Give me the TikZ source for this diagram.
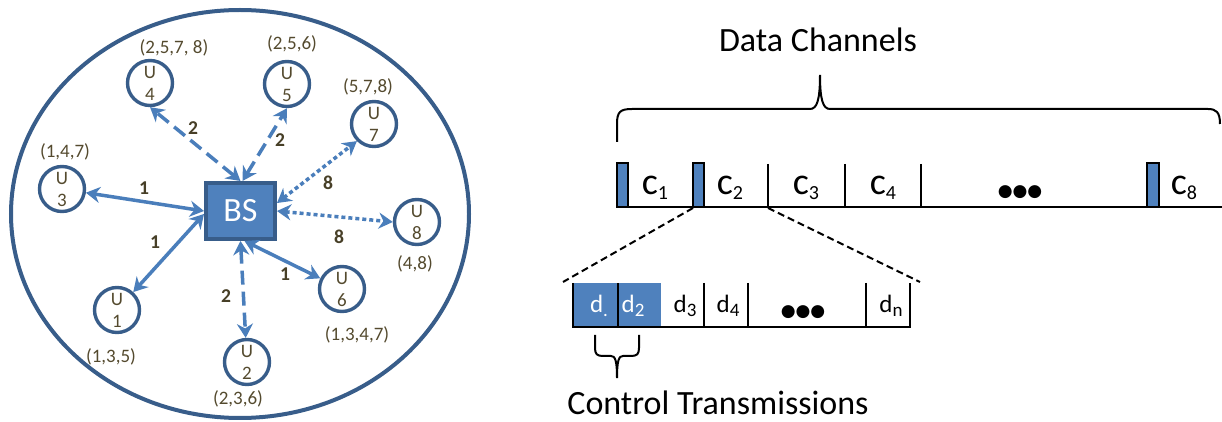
\documentclass[tikz,border=0pt]{standalone}
\usepackage{fontspec}
\setmainfont{Carlito}
\newfontfamily\dotfont{DejaVu Sans}
\usepackage{tikz}
\usetikzlibrary{arrows.meta}
\definecolor{cellblue}{RGB}{79,129,189}
\definecolor{ringblue}{RGB}{56,93,138}
\definecolor{linkblue}{RGB}{74,126,187}
\definecolor{tagbrown}{RGB}{84,74,46}
\newcommand{\chan}[1]{{\fontsize{19}{19}\selectfont c}\raisebox{-2.5pt}{\fontsize{10}{10}\selectfont #1}}
\newcommand{\slot}[1]{{\fontsize{12.5}{12.5}\selectfont d}\raisebox{-2pt}{\fontsize{9.5}{9.5}\selectfont #1}}
\newcommand{\bigdots}{{\dotfont\fontsize{8.5}{8.5}\selectfont ●●●}}

\begin{document}
\begin{tikzpicture}[x=.5pt, y=-.5pt, > = {Stealth[length=7pt,width=8pt]},
    user/.style={circle, draw=ringblue, line width=1.7pt, minimum size=22.5pt, inner sep=0pt,
      align=center, text=tagbrown, font=\fontsize{9.5}{11}\selectfont},
    tag/.style={text=tagbrown, font=\fontsize{9.5}{11}\selectfont},
    hop/.style={text=tagbrown!85!black, font=\fontsize{9.8}{11}\selectfont\bfseries},
    link/.style={<->, draw=linkblue, line width=1.75pt},
    dashlink/.style={link, dash pattern=on 7pt off 3.5pt},
    dotlink/.style={link, dash pattern=on 2pt off 1.5pt},
    head/.style={font=\fontsize{17}{17}\selectfont, anchor=base},
    bar/.style={line width=1.1pt},
    lowbar/.style={line width=1.3pt},
    pilot/.style={fill=cellblue, draw=black, line width=1pt},
    brace/.style={line width=1pt},
    zoomline/.style={line width=1pt, dash pattern=on 3.5pt off 2pt}]
        \useasboundingbox (0,0) rectangle (1222,422);

        % cell with base station and users
        \draw[ringblue, line width=2pt] (240,214) ellipse [x radius=229, y radius=204];
        \node[draw=ringblue, fill=cellblue, line width=2pt, minimum width=34.5pt, minimum height=28pt,
          text=white, font=\fontsize{17}{17}\selectfont] (bs) at (240.5,211) {BS};
        \node[user] (u1) at (117,310) {U\\1};
        \node[user] (u2) at (247,362) {U\\2};
        \node[user] (u3) at (62,189) {U\\3};
        \node[user] (u4) at (150,83) {U\\4};
        \node[user] (u5) at (287,84) {U\\5};
        \node[user] (u6) at (342,289) {U\\6};
        \node[user] (u7) at (374,124) {U\\7};
        \node[user] (u8) at (417,222) {U\\8};

        \draw[link] (bs.west) -- (u3);
        \draw[link] ([yshift=-1.5pt]bs.west) -- (u1);
        \draw[link] ([xshift=2pt]bs.south) -- (u6);
        \draw[dashlink] (bs.south) -- (u2);
        \draw[dashlink] (bs.north) -- (u4.south);
        \draw[dashlink] ([xshift=1pt]bs.north) -- (u5.south);
        \draw[dotlink] ([yshift=4pt]bs.east) -- (u7.south west);
        \draw[dotlink] (bs.east) -- (u8.west);

        \node[hop] (h3) at (144,188) {1};
        \node[hop] (h1) at (155,242) {1};
        \node[hop] (h6) at (285,274) {1};
        \node[hop] (h2) at (226,296) {2};
        \node[hop] (h4) at (193,128) {2};
        \node[hop] (h5) at (280,140) {2};
        \node[hop] (h7) at (328,183) {8};
        \node[hop] (h8) at (339,237) {8};

        \node[tag] (t1) at (111,357) {(1,3,5)};
        \node[tag] (t2) at (238,399) {(2,3,6)};
        \node[tag] (t3) at (65,152) {(1,4,7)};
        \node[tag] (t4) at (174,48) {(2,5,7, 8)};
        \node[tag] (t5) at (292,44) {(2,5,6)};
        \node[tag] (t6) at (357,335) {(1,3,4,7)};
        \node[tag] (t7) at (368,87) {(5,7,8)};
        \node[tag] (t8) at (415,264) {(4,8)};

        % data channels
        \node[head] (dchan) at (818,52) {Data Channels};
        \draw[brace] (617,142) -- (617,124) .. controls (617,112) and (620,109) .. (632,109) -- (810,109)
          .. controls (817,109) and (820,100) .. (820,75) .. controls (820,100) and (823,109) .. (830,109)
          -- (1208,109) .. controls (1216,109) and (1220,112) .. (1220,124);
        \draw[bar] (617,207) -- (1222,207);
        \foreach \x in {768,845,921}
          \draw[bar] (\x,164) -- (\x,207);
        \draw[pilot] (617,163) rectangle (628,207);
        \draw[pilot] (693,163) rectangle (704,207);
        \draw[pilot] (1147,163) rectangle (1159,207);
        \node[anchor=base] (c1) at (655,195) {\chan{1}};
        \node[anchor=base] (c2) at (730,195) {\chan{2}};
        \node[anchor=base] (c3) at (806,195) {\chan{3}};
        \node[anchor=base] (c4) at (883,195) {\chan{4}};
        \node (cdots) at (1020,192) {\bigdots};
        \node[anchor=base] (c8) at (1184,195) {\chan{8}};

        % zoom into one channel
        \coordinate (zl) at (693,208);
        \coordinate (zr) at (768,208);
        \coordinate (bl) at (563,282);
        \coordinate (br) at (920,282);
        \draw[zoomline] (zl) -- (bl);
        \draw[zoomline] (zr) -- (br);

        \fill[cellblue] (573,283) rectangle (661,327);
        \draw[lowbar] (573,283) -- (573,327) -- (910,327) -- (910,283);
        \foreach \x in {618,704,748,866}
          \draw[lowbar] (\x,283) -- (\x,327);
        \node[anchor=base, text=white] (d1) at (599,313) {\slot{.}};
        \node[anchor=base, text=white] (d2) at (633,313) {\slot{2}};
        \node[anchor=base] (d3) at (685,313) {\slot{3}};
        \node[anchor=base] (d4) at (728,313) {\slot{4}};
        \node (ddots) at (803,312) {\bigdots};
        \node[anchor=base] (dn) at (891,313) {\slot{n}};

        \draw[brace] (595,335) -- (595,348) .. controls (595,354) and (597,356) .. (603,356) -- (611,356)
          .. controls (615,356) and (617,360) .. (617,378) .. controls (617,360) and (619,356) .. (623,356)
          -- (631,356) .. controls (637,356) and (639,354) .. (639,348) -- (639,335);
        \node[head] (ctrl) at (718,415) {Control Transmissions};
\end{tikzpicture}
\end{document}
